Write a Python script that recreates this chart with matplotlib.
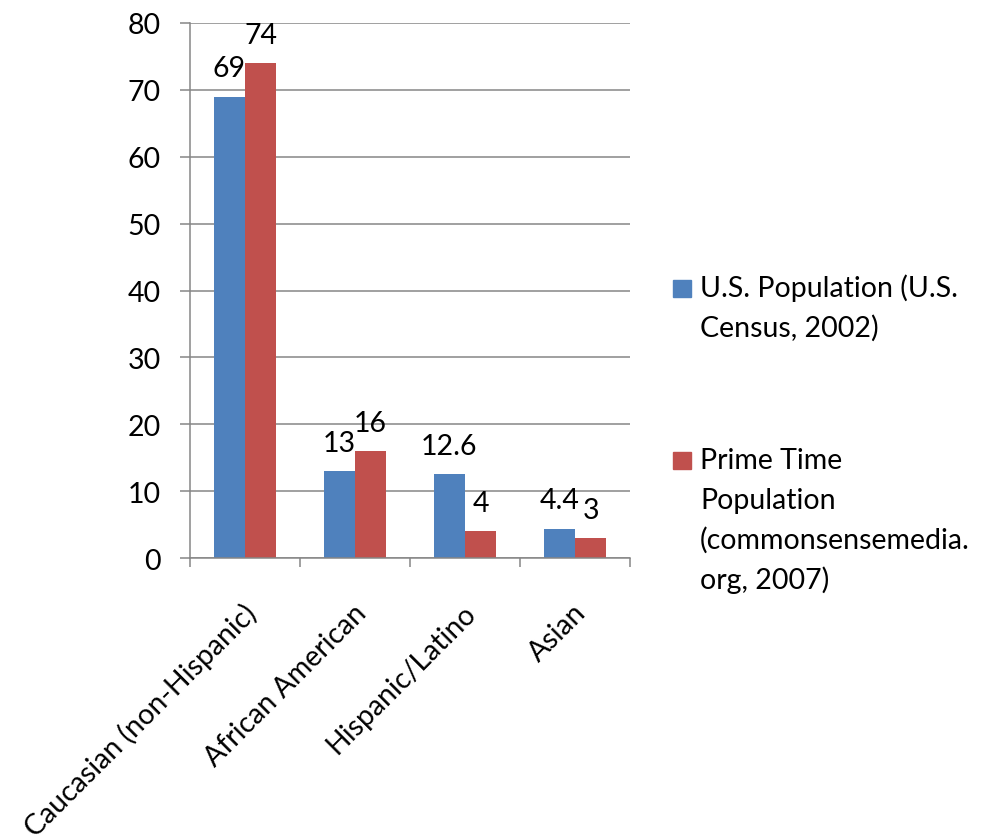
import matplotlib
matplotlib.use("Agg")
import matplotlib.pyplot as plt
from matplotlib.patches import Rectangle
import numpy as np

categories = ["Caucasian (non-Hispanic)", "African American", "Hispanic/Latino", "Asian"]
us_population = [69, 13, 12.6, 4.4]
prime_time = [74, 16, 4, 3]
us_labels = ["69", "13", "12.6", "4.4"]
pt_labels = ["74", "16", "4", "3"]
series_names = [["U.S. Population (U.S.", "Census, 2002)"],
                ["Prime Time", "Population", "(commonsensemedia.", "org, 2007)"]]
colors = ["#4F81BD", "#C0504D"]
yticks = [0, 10, 20, 30, 40, 50, 60, 70, 80]

FONT = "Lato"
FS = 20.5
plt.rcParams['font.family'] = [FONT, 'DejaVu Sans']

W, H = 988, 837
fig = plt.figure(figsize=(W / 100, H / 100), dpi=100)
ax = fig.add_axes([190 / W, 1 - 559 / H, 440 / W, 535 / H])

x = np.arange(len(categories))
bw = 0.2857
ax.bar(x - bw / 2, us_population, bw, color=colors[0], linewidth=0)
ax.bar(x + bw / 2, prime_time, bw, color=colors[1], linewidth=0)

for xi, v, lab in zip(x - bw / 2, us_population, us_labels):
    ax.annotate(lab, (xi, v), xytext=(0, 14.5), textcoords="offset points",
                ha="center", va="baseline", fontsize=FS, color="black")
for xi, v, lab in zip(x + bw / 2, prime_time, pt_labels):
    ax.annotate(lab, (xi, v), xytext=(0, 14.5), textcoords="offset points",
                ha="center", va="baseline", fontsize=FS, color="black")

ax.set_xlim(-0.5, len(categories) - 0.5)
ax.set_ylim(0, 80)
ax.set_yticks(yticks)
ax.set_yticklabels([str(t) for t in yticks], fontsize=FS)
ax.tick_params(axis="y", length=7.2, width=1.1, color="#868686", pad=14)
ax.set_xticks(np.arange(-0.5, len(categories), 1.0))
ax.set_xticklabels([])
ax.tick_params(axis="x", length=6.5, width=1.1, color="#868686")

ax.yaxis.grid(True, color="#868686", linewidth=1.1)
ax.set_axisbelow(True)
for s in ["top", "right"]:
    ax.spines[s].set_visible(False)
for s in ["left", "bottom"]:
    ax.spines[s].set_color("#868686")
    ax.spines[s].set_linewidth(1.1)

# category labels rotated 45 degrees
for xi, cat in zip(x, categories):
    ax.annotate(cat, (xi, 0), xycoords=("data", "axes fraction"),
                xytext=(5, -36), textcoords="offset points",
                rotation=45, rotation_mode="anchor", ha="right", va="center",
                fontsize=FS, color="black")

# legend (manual, Excel-style)
leg_first_baseline = [297, 469]
line_step = 40
for c, lines, yb in zip(colors, series_names, leg_first_baseline):
    fig.patches.append(Rectangle((673 / W, 1 - (yb + 1) / H), 18 / W, 17 / H,
                                 transform=fig.transFigure, color=c))
    for k, line in enumerate(lines):
        fig.text(700 / W, 1 - (yb + k * line_step) / H, line, fontsize=FS,
                 ha="left", va="baseline", color="black")

fig.savefig("out.png", dpi=100)
